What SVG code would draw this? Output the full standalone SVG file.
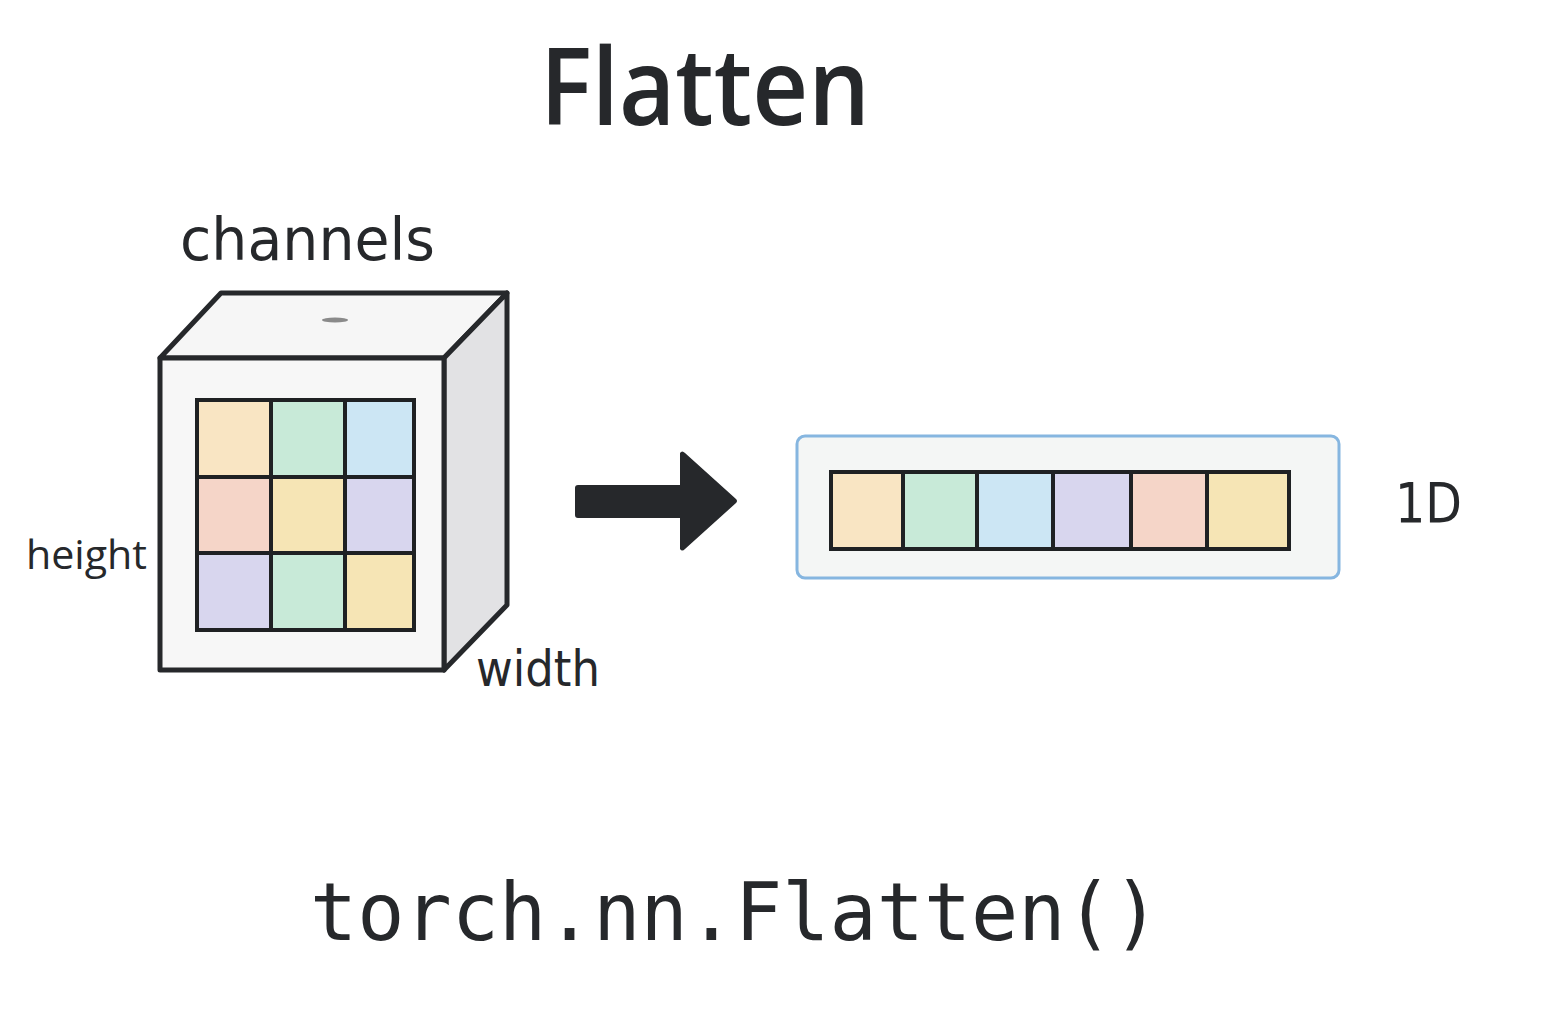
<svg xmlns="http://www.w3.org/2000/svg" width="1546" height="1024" viewBox="0 0 1546 1024">
<style>
.t{font-family:"DejaVu Sans","Noto Sans",sans-serif;fill:#26282b}
.title{font-family:"Open Sans","Noto Sans",sans-serif;font-weight:600;fill:#26282b}
.mono{font-family:"DejaVu Sans Mono","Liberation Mono",monospace;fill:#26282b}
.edge{stroke:#26282b;stroke-width:5;stroke-linejoin:round}
.cell{stroke:#1f2123;stroke-width:4}
.peach{fill:#f9e5c3}.green{fill:#c8ead8}.blue{fill:#cce6f4}.lav{fill:#d8d6ee}.salmon{fill:#f5d5c8}.yellow{fill:#f6e5b5}
</style>
<rect width="1546" height="1024" fill="#ffffff"/>
<text class="title" x="705" y="125" font-size="106" text-anchor="middle" textLength="330" lengthAdjust="spacingAndGlyphs">Flatten</text>
<g id="cube">
<polygon class="edge" points="160,358 221,293 507,293 444,358" fill="#f6f6f6"/>
<polygon class="edge" points="444,358 507,293 507,605 444,670" fill="#e2e2e4"/>
<rect class="edge" x="160" y="358" width="284" height="312" fill="#f7f7f7"/>
<ellipse cx="335" cy="320" rx="13" ry="2.5" fill="#8a8a8a"/>
<g id="grid">
<rect class="cell peach" x="197" y="400" width="74" height="77"/>
<rect class="cell green" x="271" y="400" width="74" height="77"/>
<rect class="cell blue" x="345" y="400" width="69" height="77"/>
<rect class="cell salmon" x="197" y="477" width="74" height="76"/>
<rect class="cell yellow" x="271" y="477" width="74" height="76"/>
<rect class="cell lav" x="345" y="477" width="69" height="76"/>
<rect class="cell lav" x="197" y="553" width="74" height="77"/>
<rect class="cell green" x="271" y="553" width="74" height="77"/>
<rect class="cell yellow" x="345" y="553" width="69" height="77"/>
</g>
</g>
<text class="t" x="180" y="260" font-size="58" textLength="255" lengthAdjust="spacingAndGlyphs">channels</text>
<text class="t" x="26" y="569" font-size="40" textLength="121" lengthAdjust="spacingAndGlyphs" style="font-family:'Open Sans','Noto Sans',sans-serif">height</text>
<text class="t" x="476" y="686" font-size="50" textLength="124" lengthAdjust="spacingAndGlyphs">width</text>
<g id="connectors">
<path d="M578,485 L680,485 L680,453 Q682,450 685,453 L736,499 Q738,501 736,503 L685,549 Q682,552 680,549 L680,518 L578,518 Q575,518 575,515 L575,488 Q575,485 578,485 Z" fill="#26282b"/>
</g>
<g id="vector">
<rect x="797" y="436" width="542" height="142" rx="8" fill="#f4f6f5" stroke="#86b6e0" stroke-width="3"/>
<rect class="cell peach" x="831" y="472" width="72" height="77"/>
<rect class="cell green" x="903" y="472" width="74" height="77"/>
<rect class="cell blue" x="977" y="472" width="76" height="77"/>
<rect class="cell lav" x="1053" y="472" width="78" height="77"/>
<rect class="cell salmon" x="1131" y="472" width="76" height="77"/>
<rect class="cell yellow" x="1207" y="472" width="82" height="77"/>
</g>
<text class="t" x="1395" y="522" font-size="56" textLength="67" lengthAdjust="spacingAndGlyphs">1D</text>
<text class="mono" x="310" y="940" font-size="80" textLength="850" lengthAdjust="spacingAndGlyphs">torch.nn.Flatten()</text>
</svg>
